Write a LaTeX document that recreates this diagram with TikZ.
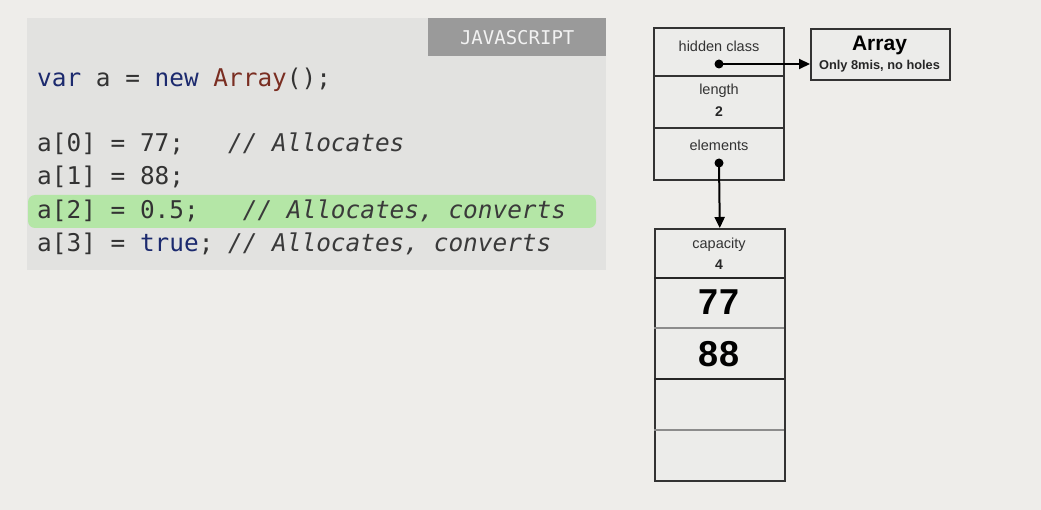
\documentclass[tikz,border=0pt]{standalone}
\usepackage{fontspec}
\setmainfont{Liberation Sans}
\setmonofont{DejaVu Sans Mono}
\usetikzlibrary{arrows.meta}
\definecolor{bgc}{HTML}{EEEDEA}
\definecolor{codebg}{HTML}{E2E2E0}
\definecolor{tabc}{HTML}{9A9A9A}
\definecolor{hl}{HTML}{B4E6A6}
\definecolor{kw}{HTML}{1C2A6E}
\definecolor{cls}{HTML}{7A2E22}
\definecolor{txt}{HTML}{333333}
\definecolor{cmt}{HTML}{3A3A3A}
\definecolor{cellbg}{HTML}{ECECEA}
\newcommand{\kwd}[1]{\textcolor{kw}{#1}}
\newcommand{\cmnt}[1]{\textcolor{cmt}{\itshape #1}}
\tikzset{
  codeline/.style={anchor=base west, inner sep=0pt, font=\ttfamily\fontsize{24.4}{28}\selectfont, text=txt},
  cell/.style={draw=black!80, line width=1.6pt, fill=cellbg},
  small/.style={font=\fontsize{14.5}{16}\selectfont, text=black!80, inner sep=0pt},
  smallb/.style={font=\bfseries\fontsize{14}{16}\selectfont, text=black!85, inner sep=0pt},
  big/.style={font=\bfseries\fontsize{36}{40}\selectfont, inner sep=0pt},
  dot/.style={circle, fill=black, inner sep=0pt, minimum size=9pt},
  ptr/.style={line width=2pt, -{Triangle[length=11pt,width=10pt]}},
}
\begin{document}
\begin{tikzpicture}[x=1pt,y=-1pt]
\fill[bgc] (0,0) rectangle (1041,510);
\useasboundingbox (0,0) rectangle (1041,510);
% code panel
\fill[codebg] (27,18) rectangle (606,270);
\node[fill=tabc, minimum width=178pt, minimum height=38pt, inner sep=0pt, anchor=north west,
      text=white!95!black, font=\ttfamily\fontsize{19}{22}\selectfont] (tab) at (428,18) {JAVASCRIPT};
\fill[hl, rounded corners=7pt] (28,195) rectangle (596,228);
\node[codeline] (l0) at (37,87) {\kwd{var} a = \kwd{new} \textcolor{cls}{Array}();};
\node[codeline] (l1) at (37,152) {a[0] = 77;\ \ \ \cmnt{// Allocates}};
\node[codeline] (l2) at (37,185) {a[1] = 88;};
\node[codeline] (l3) at (37,219) {a[2] = 0.5;\ \ \ \cmnt{// Allocates, converts}};
\node[codeline] (l4) at (37,252) {a[3] = \kwd{true}; \cmnt{// Allocates, converts}};
% object
\draw[cell] (654,28) rectangle (784,180);
\draw[black!80, line width=1.6pt] (654,76) -- (784,76);
\draw[black!80, line width=1.6pt] (654,128) -- (784,128);
\node[small] (hc) at (719,46) {hidden class};
\node[small] (len) at (719,91) {length};
\node[smallb] (lenv) at (719,112) {2};
\node[small] (el) at (719,145) {elements};
\node[dot] (d1) at (719,64) {};
\node[dot] (d2) at (719,163) {};
% Array map
\node[cell, minimum width=139pt, minimum height=51pt, anchor=north west, inner sep=0pt] (arr) at (810,28) {};
\node[font=\bfseries\fontsize{21}{24}\selectfont, inner sep=0pt] (arrt) at (879.5,45) {Array};
\node[font=\bfseries\fontsize{12.8}{15}\selectfont, text=black!85, inner sep=0pt] (arrs) at (879.5,66) {Only 8mis, no holes};
% elements store
\node[cell, minimum width=130pt, minimum height=252pt, anchor=north west, inner sep=0pt] (store) at (654,228) {};
\draw[black!85, line width=1.8pt] (654,278) -- (784,278);
\draw[black!45, line width=1.8pt] (654,328) -- (784,328);
\draw[black!85, line width=1.8pt] (654,379) -- (784,379);
\draw[black!45, line width=1.8pt] (654,430) -- (784,430);
\node[small] (cap) at (719,245) {capacity};
\node[smallb] (capv) at (719,265) {4};
\node[big] (v77) at (719,302) {77};
\node[big] (v88) at (719,354) {88};
% pointers
\draw[ptr] (d1.center) -- (d1.center -| arr.west);
\draw[ptr] (d2.center) -- (store.north);
\end{tikzpicture}
\end{document}
